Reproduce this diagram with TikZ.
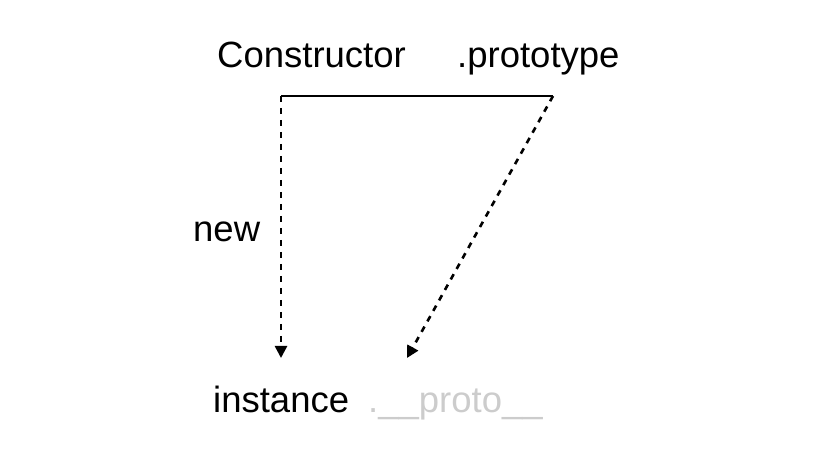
\documentclass[tikz,border=0pt]{standalone}
\usepackage{fontspec}
\setmainfont{Liberation Sans}
\usetikzlibrary{arrows.meta}
\definecolor{ghost}{HTML}{CCCCCC}
\begin{document}
\begin{tikzpicture}[x=1pt,y=1pt,
  lbl/.style={anchor=base west, inner sep=0pt, font=\fontsize{36.5}{42}\selectfont},
  solidline/.style={line width=2.4pt},
  dashline/.style={line width=2.6pt, dash pattern=on 6pt off 6pt, -{Triangle[length=12pt,width=12pt]}}]
\useasboundingbox (0,0) rectangle (830,462);
\node[lbl] (ctor) at (217,394) {Constructor};
\node[lbl] (proto) at (457,394) {.prototype};
\node[lbl] (new) at (193,220) {new};
\node[lbl] (inst) at (213,49) {instance};
\node[lbl, text=ghost] (dproto) at (368,49) {.\_\_proto\_\_};
\coordinate (c1) at (281,366);
\coordinate (c2) at (553,366);
\coordinate (t1) at (281,104);
\coordinate (t2) at (407,104);
\draw[solidline] (c1) -- (c2);
\draw[dashline] (c1) -- (t1);
\draw[dashline] (c2) -- (t2);
\end{tikzpicture}
\end{document}
